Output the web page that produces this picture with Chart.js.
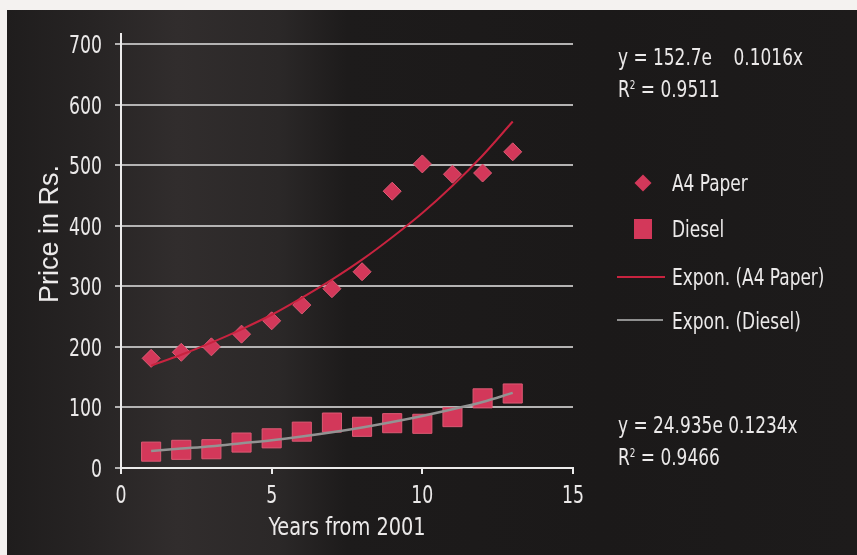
<!DOCTYPE html>
<html>
<head>
<meta charset="utf-8">
<script src="https://cdn.jsdelivr.net/npm/chart.js@4/dist/chart.umd.min.js"></script>
<style>
  html, body { margin: 0; padding: 0; background: #f4f2f0; }
  #wrap {
    position: relative; width: 857px; height: 555px; overflow: hidden;
  }
  #bg {
    position: absolute; left: 7px; top: 10px; right: 0; bottom: 0;
    background: linear-gradient(90deg, #1f1d1d 0%, #272424 10%, #312d2d 20%, #2b2828 32%, #1d1b1b 40%, #1b1919 70%, #1d1b1b 100%);
  }
  canvas { position: absolute; left: 0; top: 0; }
  .txt {
    position: absolute; color: #ebe9e9; white-space: pre;
    font-family: 'DejaVu Sans Condensed', 'DejaVu Sans', sans-serif;
    font-size: 23px; line-height: 26px;
    transform-origin: left center; transform: translateY(-50%) scaleX(0.82);
  }
  .txt sup { font-size: 12px; vertical-align: 8px; line-height: 0; }
  .sym { position: absolute; }
</style>
</head>
<body>
<div id="wrap">
  <div id="bg"></div>
  <canvas id="chart" width="857" height="555"></canvas>

  <div class="txt" style="left:618px; top:57px;">y = 152.7e    0.1016x</div>
  <div class="txt" style="left:618px; top:89px;">R<sup>2</sup> = 0.9511</div>

  <div class="sym" style="left:637px; top:177px; width:12px; height:12px; background:#d3385a; transform:rotate(45deg);"></div>
  <div class="txt" style="left:672px; top:183px;">A4 Paper</div>
  <div class="sym" style="left:634px; top:219px; width:18px; height:20px; background:#d3385a;"></div>
  <div class="txt" style="left:672px; top:229px;">Diesel</div>
  <div class="sym" style="left:617px; top:276px; width:48px; height:2px; background:#c8233f;"></div>
  <div class="txt" style="left:672px; top:277px;">Expon. (A4 Paper)</div>
  <div class="sym" style="left:617px; top:319px; width:46px; height:2px; background:#8f8f8f;"></div>
  <div class="txt" style="left:672px; top:321px;">Expon. (Diesel)</div>

  <div class="txt" style="left:618px; top:425px;">y = 24.935e 0.1234x</div>
  <div class="txt" style="left:618px; top:457px;">R<sup>2</sup> = 0.9466</div>
</div>

<script>
// years from 2001
const years = [1, 2, 3, 4, 5, 6, 7, 8, 9, 10, 11, 12, 13];

// prices (Rs.)
const a4Paper = [181, 191, 200, 221, 243, 269, 296, 324, 457, 502, 485, 487, 522];
const diesel = [27, 30, 31, 42, 49, 60, 75, 68, 74, 73, 84, 115, 123];

// exponential trend lines at each year
const a4Trend = [169, 187, 207, 229, 253, 281, 311, 344, 381, 421, 466, 516, 572];
const dieselTrend = [28, 32, 36, 41, 46, 52, 59, 67, 76, 86, 97, 109, 124];

const xTicks = [0, 5, 10, 15];
const yTicks = [0, 100, 200, 300, 400, 500, 600, 700];

const xTitle = 'Years from 2001';
const yTitle = 'Price in Rs.';

const NARROW = "'DejaVu Sans Condensed', 'DejaVu Sans', sans-serif";
const TEXT = '#ebe9e9';
const MARK = '#d3385a';

const pts = vals => years.map((x, i) => ({ x, y: vals[i] }));

// the scan uses a condensed face, so squeeze the canvas text horizontally
function squeezed(ctx, text, x, y, align, sx) {
  ctx.save();
  ctx.translate(x, y);
  ctx.scale(sx, 1);
  ctx.textAlign = align;
  ctx.fillText(text, 0, 0);
  ctx.restore();
}

const axisText = {
  id: 'axisText',
  afterDraw(chart) {
    const { ctx, chartArea } = chart;
    const xs = chart.scales.x, ys = chart.scales.y;
    ctx.save();
    ctx.fillStyle = TEXT;
    ctx.textBaseline = 'alphabetic';

    // y axis line pokes a little above the 700 gridline
    ctx.strokeStyle = '#ecebeb';
    ctx.lineWidth = 2;
    ctx.beginPath();
    ctx.moveTo(chartArea.left, chartArea.top - 11);
    ctx.lineTo(chartArea.left, chartArea.top);
    ctx.stroke();

    ctx.font = `25px ${NARROW}`;
    yTicks.forEach(v => squeezed(ctx, String(v), chartArea.left - 19, ys.getPixelForValue(v) + 9, 'right', 0.77));
    xTicks.forEach(v => squeezed(ctx, String(v), xs.getPixelForValue(v), chartArea.bottom + 35, 'center', 0.77));

    ctx.font = `25px ${NARROW}`;
    squeezed(ctx, xTitle, (chartArea.left + chartArea.right) / 2, chartArea.bottom + 67, 'center', 0.86);

    ctx.font = "27px 'Liberation Sans', Arial, sans-serif";
    ctx.save();
    ctx.translate(58, 234);
    ctx.rotate(-Math.PI / 2);
    ctx.textAlign = 'center';
    ctx.fillText(yTitle, 0, 0);
    ctx.restore();

    ctx.restore();
  }
};

new Chart(document.getElementById('chart'), {
  type: 'scatter',
  data: {
    datasets: [
      {
        label: 'Expon. (A4 Paper)',
        data: pts(a4Trend),
        showLine: true,
        borderColor: '#c8233f',
        borderWidth: 2,
        pointRadius: 0,
        cubicInterpolationMode: 'monotone',
        order: 0
      },
      {
        label: 'Expon. (Diesel)',
        data: pts(dieselTrend),
        showLine: true,
        borderColor: '#939393',
        borderWidth: 2.5,
        pointRadius: 0,
        cubicInterpolationMode: 'monotone',
        order: 0
      },
      {
        label: 'A4 Paper',
        data: pts(a4Paper),
        pointStyle: 'rectRot',
        pointRadius: 9,
        backgroundColor: MARK,
        borderColor: '#dd5a74',
        borderWidth: 1,
        order: 1
      },
      {
        label: 'Diesel',
        data: pts(diesel),
        pointStyle: 'rect',
        pointRadius: 13.5,
        backgroundColor: MARK,
        borderColor: '#dd5a74',
        borderWidth: 1,
        order: 1
      }
    ]
  },
  options: {
    responsive: false,
    animation: false,
    layout: { padding: { top: 44, right: 284, left: 0, bottom: 0 } },
    plugins: { legend: { display: false }, tooltip: { enabled: false } },
    scales: {
      x: {
        type: 'linear',
        min: 0,
        max: 15,
        afterBuildTicks: s => { s.ticks = xTicks.map(v => ({ value: v })); },
        afterFit: s => { s.height = 87; },
        border: { color: '#ecebeb', width: 2 },
        grid: { drawOnChartArea: false, drawTicks: true, tickLength: 6, color: '#ecebeb', lineWidth: 2 },
        ticks: { display: false }
      },
      y: {
        min: 0,
        max: 700,
        afterBuildTicks: s => { s.ticks = yTicks.map(v => ({ value: v })); },
        afterFit: s => { s.width = 121; },
        border: { color: '#ecebeb', width: 2 },
        grid: { color: '#b4b3b3', lineWidth: 2, tickLength: 6 },
        ticks: { display: false }
      }
    }
  },
  plugins: [axisText]
});
</script>
</body>
</html>
